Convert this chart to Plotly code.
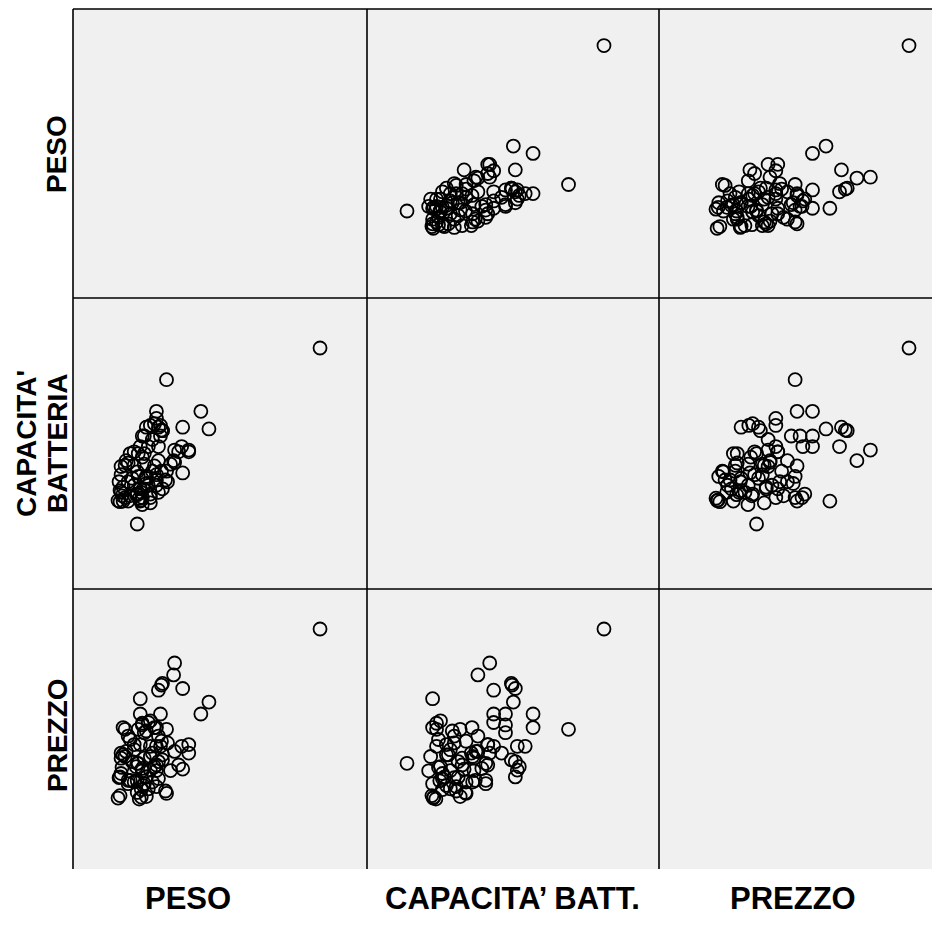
import plotly.graph_objects as go
from plotly.subplots import make_subplots

# ---- data (one entry per observation) ----
peso = [300, 148, 190, 182, 164, 156, 155, 140, 143, 144, 138, 122, 119, 142, 124, 126, 122, 130,
        116, 105, 107, 124, 132, 163, 170, 164, 170, 128, 132, 136, 140, 144, 138, 142, 134, 112,
        120, 136, 120, 128, 100, 102, 121, 128, 148, 123, 130, 138, 110, 116, 110, 102, 101, 124,
        103, 105, 103, 107, 147, 123, 119, 125, 119, 152, 138, 138, 103, 104, 108, 156, 149, 143,
        122, 132, 114, 126, 118, 128, 134, 140, 116, 124, 132, 144, 110, 140, 112, 160, 126]
capacita = [4000, 3460, 2620, 2920, 2650, 2260, 2080, 2320, 2600, 2590, 2920, 1390, 1000, 2500,
            2500, 2500, 2320, 2320, 2230, 1390, 1450, 1450, 1510, 2320, 2260, 1870, 2230, 2650,
            2680, 2710, 2650, 2590, 2800, 2680, 2440, 2200, 2200, 1990, 1810, 1690, 1400, 1380,
            1440, 1810, 1900, 1540, 1660, 1750, 1390, 2000, 2040, 1570, 1720, 1330, 1840, 1630,
            1980, 2000, 1750, 1410, 1890, 1600, 1500, 2020, 1840, 1660, 1540, 1480, 2080, 2050,
            1720, 1900, 1600, 1450, 1780, 2020, 1510, 1780, 1900, 1540, 1660, 2140, 1360, 1600,
            1720, 2080, 1480, 2230, 2200]
prezzo = [800, 387, 499, 450, 555, 660, 611, 548, 569, 576, 394, 513, 247, 450, 405, 373, 450, 415,
          324, 394, 387, 412, 422, 317, 289, 223, 324, 191, 219, 233, 254, 261, 317, 317, 289, 177,
          247, 394, 387, 380, 104, 114, 100, 110, 123, 139, 142, 151, 163, 170, 177, 191, 188, 216,
          268, 282, 289, 275, 133, 108, 127, 156, 175, 217, 240, 217, 205, 230, 296, 296, 331, 338,
          324, 317, 254, 268, 233, 191, 170, 184, 303, 226, 275, 282, 359, 359, 345, 240, 163]

variabili = [peso, capacita, prezzo]
etichette_y = ["PESO", ["CAPACITA'", "BATTERIA"], "PREZZO"]
etichette_x = ["PESO", "CAPACITA\u2019 BATT.", "PREZZO"]

# ---- layout geometry (figure pixels; page adds an 8px body margin) ----
W, H = 932, 927
col_px = [(65, 359), (359, 651), (651, 932)]
row_px = [(1, 290), (290, 581), (581, 861)]
x_ranges = [[55.4, 346.5], [391, 4838], [-106.7, 912.4]]
y_ranges = [[23.8, 340.0], [-108, 4852], [-188.2, 964.7]]

fig = make_subplots(rows=3, cols=3)

for r in range(3):
    for c in range(3):
        n = r * 3 + c + 1
        if r != c:
            fig.add_trace(go.Scatter(
                x=variabili[c], y=variabili[r], mode="markers",
                marker=dict(symbol="circle-open", size=13, color="black",
                            line=dict(width=1.8, color="black")),
                showlegend=False, hoverinfo="skip"), row=r + 1, col=c + 1)
        else:
            fig.add_trace(go.Scatter(x=[None], y=[None], mode="markers",
                                     showlegend=False, hoverinfo="skip"),
                          row=r + 1, col=c + 1)
        xs = "xaxis" if n == 1 else f"xaxis{n}"
        ys = "yaxis" if n == 1 else f"yaxis{n}"
        x0, x1 = col_px[c]
        y0, y1 = row_px[r]
        fig.layout[xs].update(domain=[x0 / W, x1 / W], range=x_ranges[c],
                              showticklabels=False, showgrid=False, zeroline=False,
                              ticks="", showline=False, fixedrange=True)
        fig.layout[ys].update(domain=[1 - y1 / H, 1 - y0 / H], range=y_ranges[r],
                              showticklabels=False, showgrid=False, zeroline=False,
                              ticks="", showline=False, fixedrange=True)
        xr = "x" if n == 1 else f"x{n}"
        yr = "y" if n == 1 else f"y{n}"
        # top and left frame lines of each cell
        fig.add_shape(type="line", xref=f"{xr} domain", yref=f"{yr} domain",
                      x0=0, x1=1, y0=1, y1=1, line=dict(color="black", width=1.6))
        fig.add_shape(type="line", xref=f"{xr} domain", yref=f"{yr} domain",
                      x0=0, x1=0, y0=0, y1=1, line=dict(color="black", width=1.6))

font_y = dict(family="Liberation Sans, Arial, sans-serif", size=28, color="black", weight="bold")
font_x = dict(family="Liberation Sans, Arial, sans-serif", size=31, color="black", weight="bold")

# row labels (rotated)
row_centres = [146, 436, 727]
for r, lab in enumerate(etichette_y):
    if isinstance(lab, list):
        fig.add_annotation(text=lab[0], x=18 / W, y=1 - row_centres[r] / H, xref="paper", yref="paper",
                           textangle=-90, showarrow=False, font=font_y, xanchor="center", yanchor="middle")
        fig.add_annotation(text=lab[1], x=49 / W, y=1 - row_centres[r] / H, xref="paper", yref="paper",
                           textangle=-90, showarrow=False, font=font_y, xanchor="center", yanchor="middle")
    else:
        fig.add_annotation(text=lab, x=49 / W, y=1 - row_centres[r] / H, xref="paper", yref="paper",
                           textangle=-90, showarrow=False, font=font_y, xanchor="center", yanchor="middle")

# column labels
col_centres = [180, 504, 785]
for c, lab in enumerate(etichette_x):
    fig.add_annotation(text=lab, x=col_centres[c] / W, y=1 - 890 / H, xref="paper", yref="paper",
                       showarrow=False, font=font_x, xanchor="center", yanchor="middle")

fig.update_layout(width=W, height=H, margin=dict(l=0, r=0, t=0, b=0),
                  paper_bgcolor="white", plot_bgcolor="rgb(240,240,240)")

fig.write_html("out.html")
